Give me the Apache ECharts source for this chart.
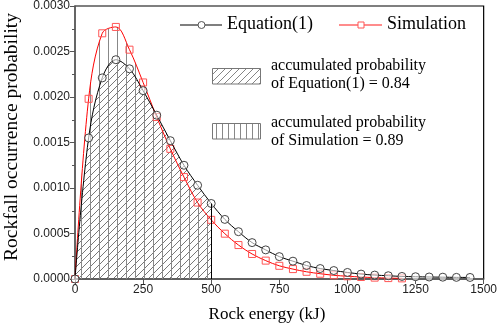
<!DOCTYPE html>
<html>
<head>
<meta charset="utf-8">
<script src="https://cdn.jsdelivr.net/npm/echarts@6/dist/echarts.min.js"></script>
<style>
html,body{margin:0;padding:0;background:#fff;}
#chart{width:500px;height:324px;}
</style>
</head>
<body>
<div id="chart"></div>
<script>
// ---- data ----
const energies = [0,50,100,150,200,250,300,350,400,450,500,550,600,650,700,750,800,850,900,950,1000,1050,1100,1150,1200,1250,1300,1350,1400,1450];
const equationValues = [0,0.00155,0.00221,0.00241,0.00231,0.00207,0.00180,0.00152,0.00125,0.00103,0.00083,0.000655,0.00052,0.00040,0.00032,0.000246,0.000196,0.000148,0.000115,0.000093,0.000072,0.000054,0.000043,0.000036,0.000028,0.000025,0.000022,0.00002,0.000018,0.000017];
const simulationEnergies = [0,50,100,150,200,250,300,350,400,450,500,550,600,650,700,750,800,850,900,950,1000,1050,1100,1150,1200];
const simulationValues = [0,0.00198,0.00270,0.00277,0.00252,0.00216,0.00178,0.00143,0.00112,0.00084,0.00065,0.000498,0.000373,0.000275,0.000202,0.000145,0.000109,0.000079,0.000058,0.000041,0.00003,0.000022,0.000015,0.00001,0.000007];
const accumulatedLimit = 500;
const yTickLabels = ['0.0000','0.0005','0.0010','0.0015','0.0020','0.0025','0.0030'];
const xTickLabels = ['0','250','500','750','1000','1250','1500'];
const legendLabels = ['Equation(1)','Simulation'];
const accLabels = [['accumulated probability','of Equation(1) = 0.84'],['accumulated probability','of Simulation = 0.89']];

// ---- build ----
const eqPairs = energies.map((e,i)=>[e,equationValues[i]]);
const simPairs = simulationEnergies.map((e,i)=>[e,simulationValues[i]]);
const eqArea = eqPairs.filter(p=>p[0]<=accumulatedLimit);
const simArea = simPairs.filter(p=>p[0]<=accumulatedLimit);
const eqAtLimit = eqArea[eqArea.length-1][1];

function diagPattern(size,color){
  const c=document.createElement('canvas');c.width=size;c.height=size;
  const g=c.getContext('2d');g.strokeStyle=color;g.lineWidth=0.8;
  g.beginPath();
  g.moveTo(-1,size+1);g.lineTo(size+1,-1);
  g.moveTo(-1,1);g.lineTo(1,-1);
  g.moveTo(size-1,size+1);g.lineTo(size+1,size-1);
  g.stroke();
  return {image:c,repeat:'repeat'};
}
function vertPattern(size,color){
  const c=document.createElement('canvas');c.width=size;c.height=4;
  const g=c.getContext('2d');g.fillStyle=color;g.fillRect(0,0,1,4);
  return {image:c,repeat:'repeat'};
}

const serif = '"Liberation Serif","Times New Roman",serif';
const sans = '"Liberation Sans",Arial,sans-serif';

const chart = echarts.init(document.getElementById('chart'),null,{renderer:'canvas'});
const option = {
  animation:false,
  backgroundColor:'#fff',
  grid:{left:75,right:15,top:3,bottom:45,show:true,borderColor:'#000',borderWidth:1.2,backgroundColor:'transparent'},
  xAxis:{
    type:'value',min:0,max:1500,interval:250,
    axisLine:{show:true,onZero:false,lineStyle:{color:'#555',width:1.5}},
    axisTick:{show:true,inside:false,length:5,lineStyle:{color:'#555'}},
    axisLabel:{color:'#222',fontFamily:sans,fontSize:12,margin:5,
      formatter:(v)=>xTickLabels[Math.round(v/250)]},
    splitLine:{show:false}
  },
  yAxis:{
    type:'value',min:0,max:0.003,interval:0.0005,
    axisLine:{show:true,onZero:false,lineStyle:{color:'#666',width:1.5}},
    axisTick:{show:true,inside:false,length:5,lineStyle:{color:'#555'}},
    minorTick:{show:true,splitNumber:2,length:3,lineStyle:{color:'#555'}},
    axisLabel:{color:'#222',fontFamily:sans,fontSize:12,margin:5,
      formatter:(v)=>yTickLabels[Math.round(v/0.0005)]},
    splitLine:{show:false}
  },
  series:[
    {type:'line',name:'eqArea',data:eqArea,smooth:0.35,symbol:'none',silent:true,z:1,
      lineStyle:{width:0},areaStyle:{color:diagPattern(7,'#555'),opacity:1},
      markLine:{silent:true,symbol:'none',label:{show:false},lineStyle:{color:'#000',width:1,type:'solid'},
        data:[[{coord:[accumulatedLimit,0]},{coord:[accumulatedLimit,eqAtLimit]}]]}},
    {type:'line',name:'simArea',data:simArea,smooth:0.35,symbol:'none',silent:true,z:1,
      lineStyle:{width:0},areaStyle:{color:vertPattern(9,'#888'),opacity:1}},
    {type:'line',name:legendLabels[1],data:simPairs,smooth:0.35,z:3,
      symbol:'rect',symbolSize:7,
      lineStyle:{color:'#ff0000',width:1},
      itemStyle:{color:'transparent',borderColor:'#ff5555',borderWidth:1}},
    {type:'line',name:legendLabels[0],data:eqPairs,smooth:0.35,z:4,
      symbol:'circle',symbolSize:8,
      lineStyle:{color:'#000',width:1},
      itemStyle:{color:'rgba(255,255,255,0.6)',borderColor:'#444',borderWidth:1}}
  ],
  graphic:[
    // line legend
    {type:'line',shape:{x1:180,y1:25,x2:222,y2:25},style:{stroke:'#555',lineWidth:1.5}},
    {type:'circle',shape:{cx:201.5,cy:25,r:3.5},style:{fill:'#fff',stroke:'#555',lineWidth:1}},
    {type:'text',left:227,top:15,style:{text:legendLabels[0],font:'18px '+serif,fill:'#000'}},
    {type:'line',shape:{x1:339,y1:25,x2:382,y2:25},style:{stroke:'#ff6666',lineWidth:1.5}},
    {type:'rect',shape:{x:358,y:22,width:6,height:6},style:{fill:'#fff',stroke:'#ff5555',lineWidth:1}},
    {type:'text',left:387,top:15,style:{text:legendLabels[1],font:'18px '+serif,fill:'#000'}},
    // hatch legends
    {type:'rect',shape:{x:212.5,y:68.5,width:48,height:15.5},style:{fill:diagPattern(7,'#666'),stroke:'#777',lineWidth:1}},
    {type:'text',left:271,top:57,style:{text:accLabels[0].join('\n'),font:'16px '+serif,lineHeight:17.6,fill:'#000'}},
    {type:'rect',shape:{x:212.5,y:123.5,width:48,height:15.5},style:{fill:vertPattern(6,'#888'),stroke:'#777',lineWidth:1}},
    {type:'text',left:271,top:114,style:{text:accLabels[1].join('\n'),font:'16px '+serif,lineHeight:17.6,fill:'#000'}},
    // axis titles
    {type:'text',x:267,y:315,style:{text:'Rock energy (kJ)',font:'17px '+serif,fill:'#000',align:'center',verticalAlign:'middle'}},
    {type:'text',x:12,y:137,rotation:Math.PI/2,style:{text:'Rockfall occurrence probability',font:'19.5px '+serif,fill:'#000',align:'center',verticalAlign:'middle'}}
  ]
};
chart.setOption(option);
</script>
</body>
</html>
